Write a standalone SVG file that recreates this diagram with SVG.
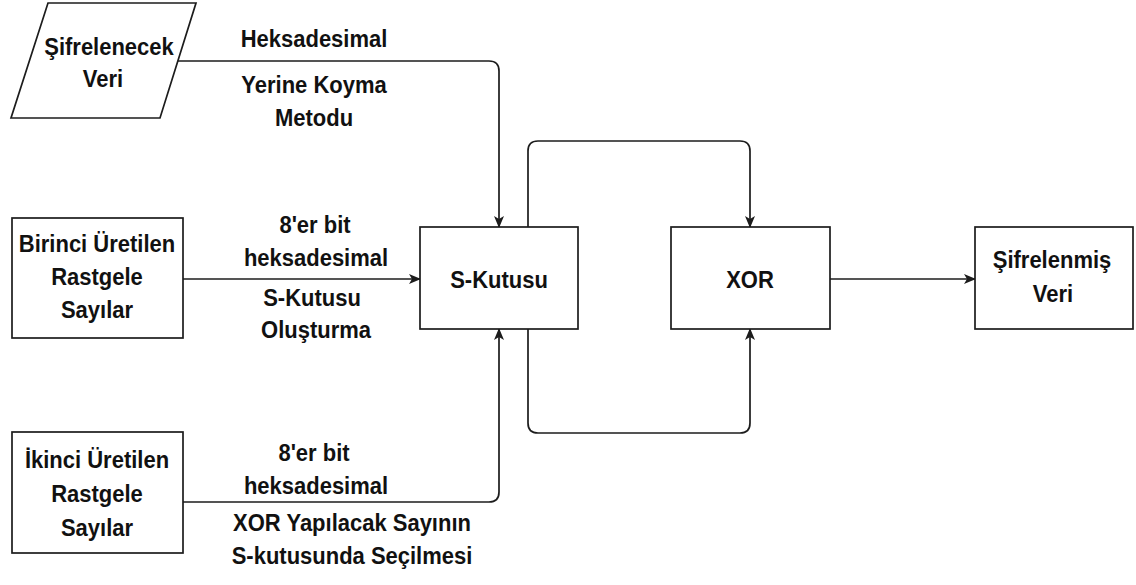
<svg xmlns="http://www.w3.org/2000/svg" width="1136" height="585" viewBox="0 0 1136 585">
  <style>
    .shape { fill: #ffffff; stroke: #1c1c1c; stroke-width: 1.7; }
    .edge { fill: none; stroke: #1c1c1c; stroke-width: 1.7; marker-end: url(#arrow); }
    text { font-family: "Liberation Sans", Arial, sans-serif; font-size: 22px; font-weight: bold; fill: #111111; text-anchor: middle; }
  </style>
  <defs>
    <marker id="arrow" viewBox="0 0 12 10" refX="11" refY="5" markerWidth="12" markerHeight="10" markerUnits="userSpaceOnUse" orient="auto">
      <path d="M0,0 L12,5 L0,10 L3,5 Z" fill="#1c1c1c"/>
    </marker>
  </defs>
  <rect width="1136" height="585" fill="#ffffff"/>

  <!-- connectors -->
  <g id="connectors">
    <path class="edge" d="M178,61 H489 Q499,61 499,71 V227"/>
    <path class="edge" d="M183,279 H420"/>
    <path class="edge" d="M183,502 H489 Q499,502 499,492 V329"/>
    <path class="edge" d="M528,227 V151 Q528,141 538,141 H740 Q750,141 750,151 V227"/>
    <path class="edge" d="M528,329 V423 Q528,433 538,433 H740 Q750,433 750,423 V329"/>
    <path class="edge" d="M830,279 H975"/>
  </g>

  <!-- edge labels (glyphs slightly tall: scale 1 x 1.08) -->
  <g id="labels">
    <text transform="translate(314,47) scale(1,1.08)">Heksadesimal</text>
    <text transform="translate(314,93) scale(1,1.08)">Yerine Koyma</text>
    <text transform="translate(314,126) scale(1,1.08)">Metodu</text>
    <text transform="translate(315,233) scale(1,1.08)">8'er bit</text>
    <text transform="translate(316,266) scale(1,1.08)">heksadesimal</text>
    <text transform="translate(312,306) scale(1,1.08)">S-Kutusu</text>
    <text transform="translate(316,338) scale(1,1.08)">Oluşturma</text>
    <text transform="translate(314,461) scale(1,1.08)">8'er bit</text>
    <text transform="translate(316,494) scale(1,1.08)">heksadesimal</text>
    <text transform="translate(352,531) scale(1,1.08)">XOR Yapılacak Sayının</text>
    <text transform="translate(352,564) scale(1,1.08)">S-kutusunda Seçilmesi</text>
  </g>

  <g id="node-sifrelenecek">
    <polygon class="shape" points="48,3 196,3 160,118 11,118"/>
    <text transform="translate(109,55) scale(1,1.08)">Şifrelenecek</text>
    <text transform="translate(103,87) scale(1,1.08)">Veri</text>
  </g>

  <g id="node-birinci">
    <rect class="shape" x="12" y="218" width="171" height="120"/>
    <text transform="translate(97,252) scale(1,1.08)">Birinci Üretilen</text>
    <text transform="translate(97,285) scale(1,1.08)">Rastgele</text>
    <text transform="translate(97,318) scale(1,1.08)">Sayılar</text>
  </g>

  <g id="node-ikinci">
    <rect class="shape" x="12" y="432" width="171" height="121"/>
    <text transform="translate(97,468) scale(1,1.08)">İkinci Üretilen</text>
    <text transform="translate(97,502) scale(1,1.08)">Rastgele</text>
    <text transform="translate(97,536) scale(1,1.08)">Sayılar</text>
  </g>

  <g id="node-skutusu">
    <rect class="shape" x="420" y="227" width="158" height="102"/>
    <text transform="translate(499,288) scale(1,1.08)">S-Kutusu</text>
  </g>

  <g id="node-xor">
    <rect class="shape" x="671" y="227" width="159" height="102"/>
    <text transform="translate(750,288) scale(1,1.08)">XOR</text>
  </g>

  <g id="node-sifrelenmis">
    <rect class="shape" x="975" y="227" width="158" height="102"/>
    <text transform="translate(1052,268) scale(1,1.08)">Şifrelenmiş</text>
    <text transform="translate(1053,302) scale(1,1.08)">Veri</text>
  </g>
</svg>
